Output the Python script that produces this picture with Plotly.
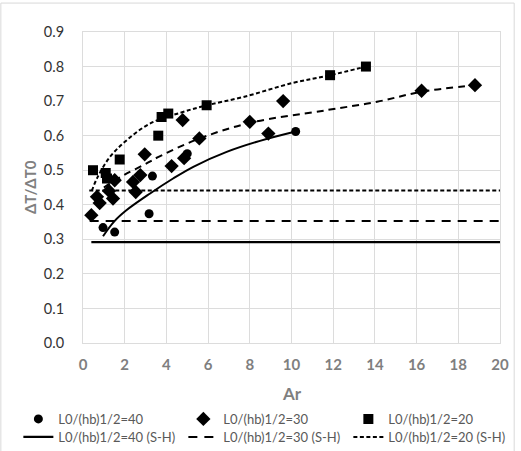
import plotly.graph_objects as go

# ---- data ----
ar_40 = [0.96, 1.52, 3.17, 3.33, 5.0, 10.2]
dt_40 = [0.334, 0.321, 0.374, 0.483, 0.548, 0.612]

ar_30 = [0.40, 0.67, 0.80, 1.25, 1.44, 1.52, 2.40, 2.53, 2.75, 2.96, 4.25, 4.78, 4.85,
         5.58, 8.0, 8.89, 9.6, 16.24, 18.8]
dt_30 = [0.370, 0.423, 0.405, 0.440, 0.418, 0.471, 0.466, 0.437, 0.486, 0.546, 0.512, 0.645, 0.535,
         0.592, 0.640, 0.606, 0.700, 0.730, 0.746]

ar_20 = [0.48, 1.09, 1.15, 1.76, 3.61, 3.77, 4.09, 5.93, 11.85, 13.57]
dt_20 = [0.500, 0.492, 0.476, 0.531, 0.600, 0.654, 0.664, 0.688, 0.775, 0.800]

# trend curves
fit40_x = [0.96, 1.5, 2.08, 3.2, 4.32, 5.29, 6.89, 8.49, 10.2]
fit40_y = [0.309, 0.352, 0.384, 0.432, 0.476, 0.510, 0.553, 0.585, 0.612]
fit30_x = [1.0, 1.3, 2.0, 2.9, 3.7, 5.6, 8.0, 11.7, 14.1, 16.24, 18.8]
fit30_y = [0.450, 0.462, 0.487, 0.515, 0.541, 0.592, 0.637, 0.674, 0.698, 0.727, 0.746]
fit20_x = [0.42, 0.7, 1.3, 2.1, 3.21, 4.65, 5.95, 7.69, 10.09, 11.85, 13.57]
fit20_y = [0.440, 0.480, 0.539, 0.587, 0.635, 0.666, 0.688, 0.712, 0.753, 0.775, 0.800]

# S-H constant levels
sh40_x = [0.40, 20]; sh40_y = [0.292, 0.292]
sh30_x = [0.32, 20]; sh30_y = [0.353, 0.353]
sh20_x = [0.30, 20]; sh20_y = [0.441, 0.441]

names = ["L0/(hb)1/2=40", "L0/(hb)1/2=30", "L0/(hb)1/2=20",
         "L0/(hb)1/2=40 (S-H)", "L0/(hb)1/2=30 (S-H)", "L0/(hb)1/2=20 (S-H)"]

x_ticks = list(range(0, 21, 2))
y_ticks = [0.0, 0.1, 0.2, 0.3, 0.4, 0.5, 0.6, 0.7, 0.8, 0.9]

FONT = "Lato"
fig = go.Figure()

# curves (no legend)
fig.add_trace(go.Scatter(x=fit40_x, y=fit40_y, mode="lines", line=dict(color="black", width=2, shape="spline"),
                         showlegend=False, hoverinfo="skip"))
fig.add_trace(go.Scatter(x=fit30_x, y=fit30_y, mode="lines",
                         line=dict(color="black", width=2, dash="7px,5px", shape="spline"),
                         showlegend=False, hoverinfo="skip"))
fig.add_trace(go.Scatter(x=fit20_x, y=fit20_y, mode="lines",
                         line=dict(color="black", width=2, dash="4px,2.5px", shape="spline"),
                         showlegend=False, hoverinfo="skip"))

# markers
fig.add_trace(go.Scatter(x=ar_40, y=dt_40, mode="markers", name=names[0], legend="legend",
                         marker=dict(symbol="circle", size=9, color="black")))
fig.add_trace(go.Scatter(x=ar_30, y=dt_30, mode="markers", name=names[1], legend="legend",
                         marker=dict(symbol="diamond", size=11, color="black")))
fig.add_trace(go.Scatter(x=ar_20, y=dt_20, mode="markers", name=names[2], legend="legend",
                         marker=dict(symbol="square", size=10, color="black")))

# S-H horizontal lines
fig.add_trace(go.Scatter(x=sh40_x, y=sh40_y, mode="lines", name=names[3], legend="legend2",
                         line=dict(color="black", width=2.2)))
fig.add_trace(go.Scatter(x=sh30_x, y=sh30_y, mode="lines", name=names[4], legend="legend2",
                         line=dict(color="black", width=2, dash="9px,7px")))
fig.add_trace(go.Scatter(x=sh20_x, y=sh20_y, mode="lines", name=names[5], legend="legend2",
                         line=dict(color="black", width=2, dash="4px,2.5px")))

grid = "#dcdcdc"
leg_common = dict(orientation="h", x=-0.155, xanchor="left", yanchor="top",
                  font=dict(family=FONT, size=13, color="#595959"),
                  entrywidth=120, entrywidthmode="pixels", tracegroupgap=0,
                  itemwidth=30, bgcolor="rgba(0,0,0,0)", traceorder="normal")
fig.update_layout(
    width=521, height=451,
    margin=dict(l=83, r=21, t=32, b=108, pad=0, autoexpand=False),
    paper_bgcolor="white", plot_bgcolor="white",
    font=dict(family=FONT, color="#404040"),
    xaxis=dict(range=[0, 20], tickvals=x_ticks, showgrid=True, gridcolor=grid, gridwidth=1,
               zeroline=False, showline=True, linecolor=grid, mirror=True,
               tickfont=dict(family=FONT, size=15, color="#7f7f7f", weight="bold"),
               ticks="", ticklabelstandoff=8, fixedrange=True),
    yaxis=dict(range=[0, 0.9], tickvals=y_ticks, tickformat=".1f", showgrid=True, gridcolor=grid,
               gridwidth=1, zeroline=False, showline=True, linecolor=grid, mirror=True,
               tickfont=dict(family=FONT, size=14.5, color="#333333"),
               ticks="", ticklabelstandoff=15, fixedrange=True),
    showlegend=True,
    legend=dict(y=-0.196, **leg_common),
    legend2=dict(y=-0.254, **leg_common),
    annotations=[
        dict(text="ΔT/ΔT0", xref="paper", yref="paper", x=-0.128, y=0.5, xanchor="center",
             yanchor="middle", textangle=-90,
             showarrow=False, font=dict(family=FONT, size=15, color="#7f7f7f", weight="bold")),
        dict(text="Ar", xref="paper", yref="paper", x=0.5, y=-0.163, xanchor="center", yanchor="middle",
             showarrow=False, font=dict(family=FONT, size=17, color="#7f7f7f", weight="bold")),
    ],
    shapes=[dict(type="rect", xref="paper", yref="paper", x0=-0.197, x1=1.034, y0=-0.5, y1=1.093,
                 line=dict(color="#d9d9d9", width=1), layer="below")],
)

fig.write_html("out.html")
